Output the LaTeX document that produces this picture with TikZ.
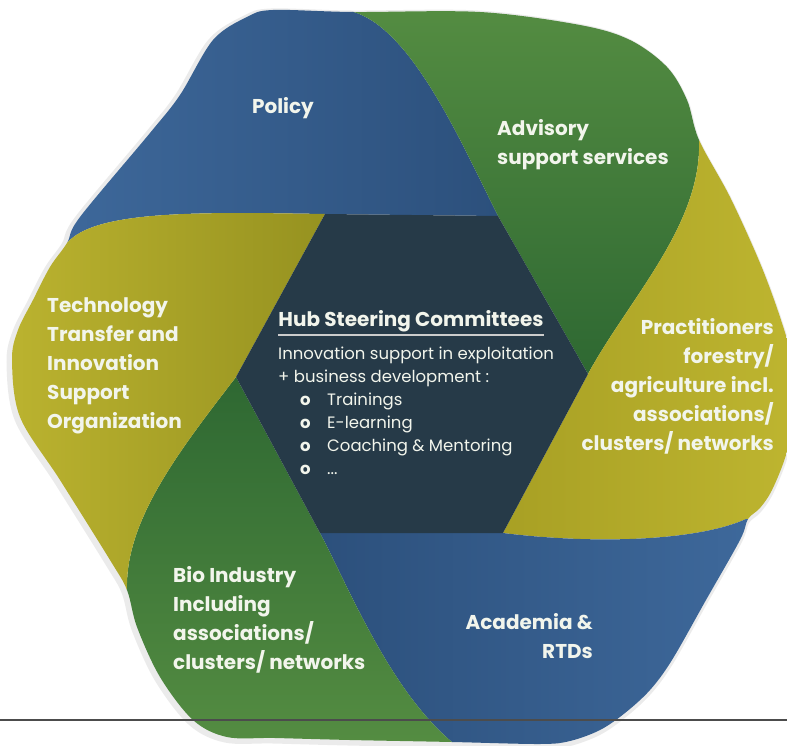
\documentclass[tikz,border=0pt]{standalone}
\usepackage{fontspec}
\setmainfont{Poppins}
\usetikzlibrary{positioning, calc}

\definecolor{policyblue}{RGB}{58,99,148}
\definecolor{policylight}{RGB}{66,110,162}
\definecolor{policydark}{RGB}{44,80,124}
\definecolor{advisorygreen}{RGB}{82,137,62}
\definecolor{advisorylight}{RGB}{90,146,68}
\definecolor{advisorydark}{RGB}{46,104,50}
\definecolor{transferyellow}{RGB}{170,164,40}
\definecolor{transferdark}{RGB}{150,146,32}
\definecolor{practyellow}{RGB}{194,185,50}
\definecolor{practdark}{RGB}{168,160,36}
\definecolor{hubslate}{RGB}{38,58,72}
\definecolor{softwhite}{RGB}{242,245,236}

% outline of the whole hexagon
\newcommand{\hexoutline}{plot[smooth cycle, tension=0.55] coordinates {(273,10) (353,12) (480,12) (580,25) (630,40) (667,67) (687,100) (699,140) (730,197) (760,263) (780,317) (792,360) (796,410) (786,455) (772,490) (760,508) (748,519) (740,540) (706,600) (672,660) (650,690) (625,713) (600,730) (570,741) (540,744) (452,742) (350,740) (275,738) (227,737) (193,720) (160,677) (137,627) (127,590) (110,560) (60,480) (20,417) (12,360) (18,330) (33,300) (50,267) (67,243) (80,217) (150,133) (180,95) (213,40) (247,17)}}
\newcommand{\hubbullet}{\hspace*{22pt}\makebox[27pt][l]{\textbf{o}}}

\begin{document}
\begin{tikzpicture}[x=1pt, y=-1pt,
			petaltext/.style = {text=softwhite, inner sep=0pt, font=\fontsize{20}{29}\selectfont\bfseries},
			hubtitle/.style = {text=softwhite, inner sep=0pt, font=\fontsize{20}{24}\selectfont\bfseries},
			hubbody/.style = {text=softwhite, inner sep=0pt, align=left, font=\fontsize{16.5}{23}\selectfont},
			underline/.style = {draw=black!20, line width=1.5pt},
			rule/.style = {draw=black!70, line width=1.1pt},
		]
		\useasboundingbox (0,0) rectangle (787,746);

		% corners of the centre hexagon
		\coordinate(Vtl) at (325,214);
		\coordinate(Vtr) at (498,216);
		\coordinate(Vr) at (588,374);
		\coordinate(Vbr) at (503,533);
		\coordinate(Vbl) at (320,533);
		\coordinate(Vl) at (236,377);

		% where each band edge meets the outline, and a point past it
		\coordinate(Otop) at (350,11);    \coordinate(Etop) at (320,-20);
		\coordinate(Oright) at (699,141); \coordinate(Eright) at (705,80);
		\coordinate(Olowr) at (746,519);  \coordinate(Elowr) at (820,525);
		\coordinate(Obot) at (452,742);   \coordinate(Ebot) at (470,790);
		\coordinate(Olowl) at (127,590);  \coordinate(Elowl) at (110,650);
		\coordinate(Oleft) at (67,243);   \coordinate(Eleft) at (30,275);

		\draw[black!8, line width=7pt, xshift=-2pt, yshift=-2pt] \hexoutline;

		\begin{scope}
			\clip \hexoutline;
			% Policy
			\shade[left color=policylight, right color=policydark] (Vtl)--(Vtr) .. controls (460,140) and (410,25) .. (Otop)--(Etop)--(-50,-50)--(Eleft)--(Oleft) .. controls (95,210) and (200,212) .. (Vtl)--cycle;
			% Advisory support services
			\shade[top color=advisorylight, bottom color=advisorydark] (Vtr)--(Vr) .. controls (628,300) and (702,225) .. (Oright)--(Eright)--(820,-50)--(Etop)--(Otop) .. controls (410,25) and (460,140) .. (Vtr)--cycle;
			% Practitioners
			\shade[left color=practdark, right color=practyellow] (Vr)--(Vbr) .. controls (600,545) and (700,540) .. (Olowr)--(Elowr)--(850,300)--(Eright)--(Oright) .. controls (702,225) and (628,300) .. (Vr)--cycle;
			% Academia
			\shade[left color=policydark, right color=policylight] (Vbr)--(Vbl) .. controls (350,590) and (390,690) .. (Obot)--(Ebot)--(850,800)--(Elowr)--(Olowr) .. controls (700,540) and (600,545) .. (Vbr)--cycle;
			% Bio Industry
			\shade[top color=advisorydark, bottom color=advisorylight] (Vbl)--(Vl) .. controls (180,450) and (125,520) .. (Olowl)--(Elowl)--(80,800)--(Ebot)--(Obot) .. controls (390,690) and (350,590) .. (Vbl)--cycle;
			% Technology Transfer
			\shade[left color=practyellow, right color=transferdark] (Vl)--(Vtl) .. controls (200,212) and (95,210) .. (Oleft)--(Eleft)--(-50,500)--(Elowl)--(Olowl) .. controls (125,520) and (180,450) .. (Vl)--cycle;
		\end{scope}
		\fill[hubslate] (Vtl)--(Vtr)--(Vr)--(Vbr)--(Vbl)--(Vl)--cycle;

		\node[petaltext](policy) at (283,108){Policy};
		\node[petaltext, align=left, anchor=west](advisory) at (497,145){Advisory\\support services};
		\node[petaltext, align=left, anchor=west](transfer) at (47,366){Technology\\Transfer and\\Innovation\\Support\\Organization};
		\node[petaltext, align=right, anchor=east](practitioners) at (774,386){Practitioners\\forestry/\\agriculture incl.\\associations/\\clusters/ networks};
		\node[petaltext, align=left, anchor=west](bio) at (173,620){Bio Industry\\Including\\associations/\\clusters/ networks};
		\node[petaltext, align=right, anchor=east](academia) at (593,636){Academia \&\\RTDs};

		\node[hubtitle](hub) at (411,321){Hub Steering Committees};
		\draw[underline] ($(hub.south west)+(0,3)$)--($(hub.south east)+(0,3)$);
		\node[hubbody, anchor=north west](hubtext) at (278,347){Innovation support in exploitation\\+ business development :\\\hubbullet Trainings\\\hubbullet E-learning\\\hubbullet Coaching \& Mentoring\\\hubbullet ...};

		\coordinate(ruleL) at (0,720);
		\coordinate(ruleR) at (787,720);
		\draw[rule](ruleL)--(ruleR);

	\end{tikzpicture}
\end{document}
